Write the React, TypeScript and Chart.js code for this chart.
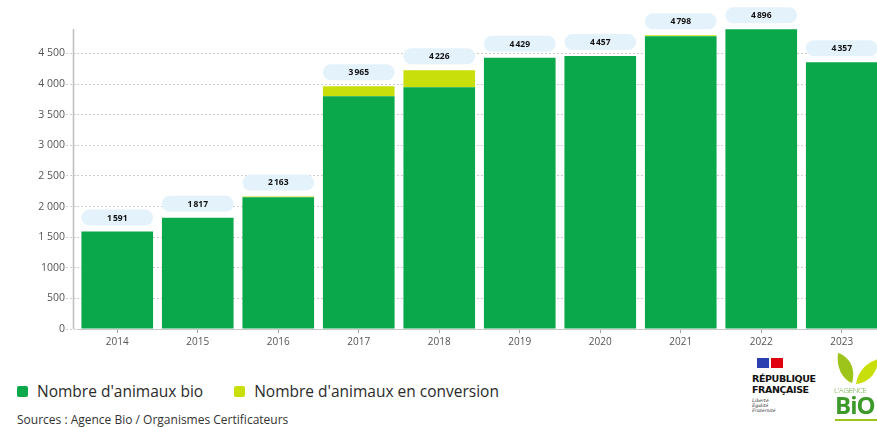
import React, { useEffect, useRef } from "react";
import { Chart, registerables } from "chart.js";

Chart.register(...registerables);

const years = ["2014", "2015", "2016", "2017", "2018", "2019", "2020", "2021", "2022", "2023"];
const animauxBio = [1591, 1817, 2150, 3800, 3950, 4429, 4457, 4783, 4896, 4357];
const animauxConversion = [0, 0, 13, 165, 276, 0, 0, 15, 0, 0];
const yTickValues = [0, 500, 1000, 1500, 2000, 2500, 3000, 3500, 4000, 4500];
const yTickLabels = ["0", "500", "1000", "1 500", "2 000", "2 500", "3 000", "3 500", "4 000", "4 500"];

const GREEN = "#0aa84b";
const LIME = "#c8df0b";
const FONT = "'Open Sans', 'DejaVu Sans', sans-serif";

const fmt = (v: number) => {
  const s = String(v);
  if (s.length <= 3) return s;
  return s.slice(0, s.length - 3) + "\u202f" + s.slice(s.length - 3);
};

const labelPlugin = {
  id: "totalsLabels",
  afterDatasetsDraw(chart: any) {
    const ctx = chart.ctx;
    const m0 = chart.getDatasetMeta(0);
    const m1 = chart.getDatasetMeta(1);
    ctx.save();
    years.forEach((_, i) => {
      const e0 = m0.data[i];
      const e1 = m1.data[i];
      const top = Math.min(e0.y, e1.y);
      const w = e0.width;
      const h = 16;
      const x = e0.x - w / 2;
      const y = top - 6 - h;
      ctx.fillStyle = "#e4f2fb";
      ctx.beginPath();
      (ctx as any).roundRect(x, y, w, h, 8);
      ctx.fill();
      ctx.fillStyle = "#111";
      ctx.font = `bold 8.5px ${FONT}`;
      ctx.textAlign = "center";
      ctx.textBaseline = "middle";
      ctx.fillText(fmt(animauxBio[i] + animauxConversion[i]), e0.x, y + h / 2 + 0.5);
    });
    const a = chart.chartArea;
    ctx.strokeStyle = "#bdbdbd";
    ctx.lineWidth = 1.5;
    ctx.beginPath();
    ctx.moveTo(73.5, a.top);
    ctx.lineTo(73.5, a.bottom);
    ctx.stroke();
    ctx.restore();
  },
};

function BarChart() {
  const ref = useRef<HTMLCanvasElement>(null);
  useEffect(() => {
    if (!ref.current) return;
    const chart = new Chart(ref.current, {
      type: "bar",
      data: {
        labels: years,
        datasets: [
          {
            label: "Nombre d'animaux bio",
            data: animauxBio,
            backgroundColor: GREEN,
            barPercentage: 0.89,
            categoryPercentage: 1,
          },
          {
            label: "Nombre d'animaux en conversion",
            data: animauxConversion,
            backgroundColor: LIME,
            barPercentage: 0.89,
            categoryPercentage: 1,
          },
        ],
      },
      options: {
        animation: false,
        responsive: false,
        maintainAspectRatio: false,
        layout: { padding: { top: 29, left: 0, right: 0, bottom: 0 } },
        plugins: { legend: { display: false }, tooltip: { enabled: false } },
        scales: {
          x: {
            stacked: true,
            afterFit: (s: any) => {
              s.height = 23;
            },
            border: { display: true, color: "#c8c8c8" },
            grid: {
              display: true,
              drawOnChartArea: false,
              drawTicks: true,
              tickLength: 4,
              offset: false,
              color: "#a0a0a0",
            },
            ticks: {
              color: "#555",
              padding: 3,
              font: { family: FONT, size: 10 },
            },
          },
          y: {
            stacked: true,
            min: 0,
            max: 4900,
            afterFit: (s: any) => {
              s.width = 77;
            },
            afterBuildTicks: (s: any) => {
              s.ticks = yTickValues.map((v) => ({ value: v }));
            },
            border: { display: false, dash: [2, 2] },
            grid: {
              color: "#cfcfcf",
              lineWidth: 1,
              tickLength: 11,
              tickBorderDash: [2, 2],
              tickColor: "#cfcfcf",
            } as any,
            ticks: {
              color: "#555",
              padding: 1,
              font: { family: FONT, size: 10.5 },
              callback: (v: any) => {
                const idx = yTickValues.indexOf(Number(v));
                return idx >= 0 ? yTickLabels[idx] : "";
              },
            },
          },
        },
      },
      plugins: [labelPlugin],
    } as any);
    return () => chart.destroy();
  }, []);
  return <canvas ref={ref} width={882} height={352} style={{ display: "block", width: 882, height: 352 }} />;
}

export default function App() {
  return (
    <div
      style={{
        position: "fixed",
        left: 0,
        top: 0,
        width: 877,
        height: 427,
        overflow: "hidden",
        background: "#fff",
        fontFamily: FONT,
      }}
    >
      <BarChart />
      <div style={{ position: "absolute", left: 17, top: 380, display: "flex", alignItems: "center", fontSize: 15.5, color: "#2b2b2b" }}>
        <span style={{ width: 11, height: 11, background: GREEN, borderRadius: 2, display: "inline-block", marginRight: 9 }} />
        <span>Nombre d'animaux bio</span>
        <span style={{ width: 11, height: 11, background: LIME, borderRadius: 2, display: "inline-block", marginLeft: 31, marginRight: 9 }} />
        <span>Nombre d'animaux en conversion</span>
      </div>
      <div style={{ position: "absolute", left: 17, top: 411, fontSize: 12, color: "#333" }}>
        Sources : Agence Bio / Organismes Certificateurs
      </div>
      <div style={{ position: "absolute", left: 752, top: 358 }}>
        <div style={{ display: "flex", marginLeft: 5, marginBottom: 5 }}>
          <span style={{ width: 12, height: 10, background: "#2b3fb0" }} />
          <span style={{ width: 2, height: 10, background: "#fff" }} />
          <span style={{ width: 12, height: 10, background: "#e1000f" }} />
        </div>
        <div style={{ fontFamily: "'DejaVu Sans', sans-serif", fontWeight: 700, fontSize: 9.5, lineHeight: "11px", color: "#111", letterSpacing: -0.4 }}>
          RÉPUBLIQUE
          <br />
          FRANÇAISE
        </div>
        <div style={{ fontFamily: "'DejaVu Serif', serif", fontStyle: "italic", fontSize: 4.5, lineHeight: "5px", color: "#222", marginTop: 3 }}>
          Liberté
          <br />
          Égalité
          <br />
          Fraternité
        </div>
      </div>
      <div style={{ position: "absolute", left: 834, top: 351, width: 48, height: 72 }}>
        <svg width={48} height={34} style={{ position: "absolute", left: 0, top: 0 }}>
          <path d="M4 2 C 16 6, 22 18, 18 32 C 8 28, 2 16, 4 2 Z" fill="#9cc41a" />
          <path d="M44 8 C 44 22, 34 32, 22 33 C 24 20, 32 12, 44 8 Z" fill="#c8df0b" />
        </svg>
        <div style={{ position: "absolute", left: 0, top: 33, fontSize: 8, color: "#5aa02c", letterSpacing: -0.4, fontWeight: 300 }}>L'AGENCE</div>
        <div style={{ position: "absolute", left: 1, top: 40, fontSize: 24, fontWeight: 700, color: "#3d9a2a", letterSpacing: -1, lineHeight: "28px" }}>BiO</div>
        <div style={{ position: "absolute", left: 1, top: 68, width: 45, height: 2, background: "#9cc41a" }} />
      </div>
    </div>
  );
}
